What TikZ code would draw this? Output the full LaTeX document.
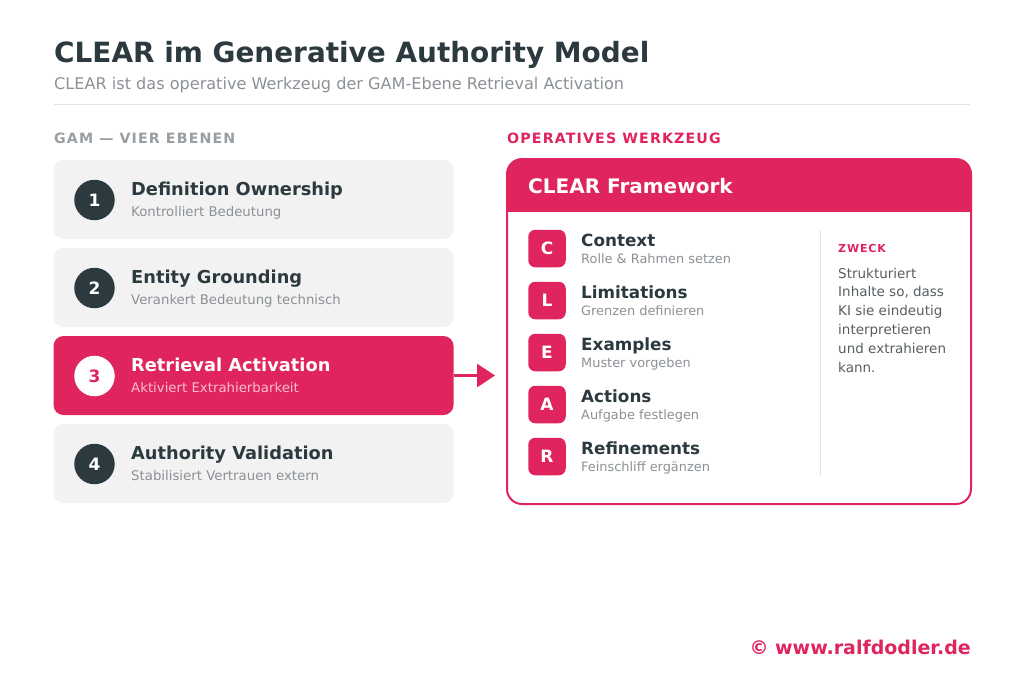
\documentclass[tikz,border=0pt]{standalone}
\usepackage{fontspec}
\setmainfont{DejaVu Sans}
\newfontfamily\spacedfont[LetterSpace=8]{DejaVu Sans}
\usetikzlibrary{arrows.meta}

\definecolor{gampink}{RGB}{224,36,94}
\definecolor{gamdark}{RGB}{44,58,64}
\definecolor{gamgray}{RGB}{140,145,150}
\definecolor{labelgray}{RGB}{152,158,162}
\definecolor{textgray}{RGB}{88,94,98}
\definecolor{cardgray}{RGB}{242,242,242}
\definecolor{linegray}{RGB}{226,226,226}
\definecolor{softpink}{RGB}{248,190,208}

\newcommand{\fs}[1]{\fontsize{#1}{#1}\selectfont}

\tikzset{
    txt/.style={anchor=base west, inner sep=0pt},
    card/.style={fill=cardgray, rounded corners=10pt, minimum width=400pt, minimum height=79pt, inner sep=0pt},
    numdot/.style={circle, fill=gamdark, text=white, minimum size=40.5pt, inner sep=0pt, font=\bfseries\fs{17}},
    ebenetitel/.style={txt, text=gamdark, font=\bfseries\fs{17.8}},
    ebenesub/.style={txt, text=gamgray, font=\fs{13.3}},
    lettersq/.style={fill=gampink, rounded corners=7pt, minimum size=37.5pt, inner sep=0pt, text=white, font=\bfseries\fs{17}},
    itemtitel/.style={txt, text=gamdark, font=\bfseries\fs{16.8}},
    itemsub/.style={txt, text=gamgray, font=\fs{12.9}},
    zwecktext/.style={txt, text=textgray, font=\fs{13.5}},
    pfeil/.style={-{Triangle[length=18pt,width=23pt]}, gampink, line width=3pt}
}

\begin{document}
\begin{tikzpicture}[x=1pt,y=-1pt]
    \useasboundingbox[fill=white] (0,0) rectangle (1024,683);

    % Kopf
    \node[txt, text=gamdark, font=\bfseries\fs{27.9}] (titel) at (54,62) {CLEAR im Generative Authority Model};
    \node[txt, text=gamgray, font=\fs{16.1}] (untertitel) at (54,89) {CLEAR ist das operative Werkzeug der GAM-Ebene Retrieval Activation};
    \draw[linegray, line width=1pt] (54,104.5) -- (970,104.5);

    \node[txt, text=labelgray, font=\spacedfont\bfseries\fs{14.2}] (gamlabel) at (54,143) {GAM — VIER EBENEN};
    \node[txt, text=gampink, font=\spacedfont\bfseries\fs{14.2}] (werkzeuglabel) at (507,143) {OPERATIVES WERKZEUG};

    % vier Ebenen
    \node[card] (ebene1) at (253.5,199.5) {};
    \node[card] (ebene2) at (253.5,287.5) {};
    \node[card, fill=gampink] (ebene3) at (253.5,375.5) {};
    \node[card] (ebene4) at (253.5,463.5) {};

    \node[numdot] (num1) at (94.5,200) {1};
    \node[numdot] (num2) at (94.5,288) {2};
    \node[numdot, fill=white, text=gampink] (num3) at (94.5,376) {3};
    \node[numdot] (num4) at (94.5,464) {4};

    \node[ebenetitel] (titel1) at (131,195) {Definition Ownership};
    \node[ebenesub] (sub1) at (131,216) {Kontrolliert Bedeutung};
    \node[ebenetitel] (titel2) at (131,283) {Entity Grounding};
    \node[ebenesub] (sub2) at (131,304) {Verankert Bedeutung technisch};
    \node[ebenetitel, text=white] (titel3) at (131,371) {Retrieval Activation};
    \node[ebenesub, text=softpink] (sub3) at (131,392) {Aktiviert Extrahierbarkeit};
    \node[ebenetitel] (titel4) at (131,459) {Authority Validation};
    \node[ebenesub] (sub4) at (131,480) {Stabilisiert Vertrauen extern};

    \coordinate (pfeilende) at (495,375.5);
    \draw[pfeil] (ebene3.east) -- (pfeilende);

    % CLEAR Framework
    \begin{scope}
        \clip[rounded corners=15pt] (507,159) rectangle (971,504);
        \fill[gampink] (507,159) rectangle (971,212);
    \end{scope}
    \draw[gampink, line width=2pt, rounded corners=15pt] (507,159) rectangle (971,504);
    \node[txt, text=white, font=\bfseries\fs{20}] (framework) at (528,193) {CLEAR Framework};

    \node[lettersq] (sqC) at (547,248.5) {C};
    \node[lettersq] (sqL) at (547,300.5) {L};
    \node[lettersq] (sqE) at (547,352.5) {E};
    \node[lettersq] (sqA) at (547,404.5) {A};
    \node[lettersq] (sqR) at (547,456.5) {R};

    \node[itemtitel] (context) at (581,246) {Context};
    \node[itemsub] (contextsub) at (581,263) {Rolle \& Rahmen setzen};
    \node[itemtitel] (limitations) at (581,298) {Limitations};
    \node[itemsub] (limitationssub) at (581,315) {Grenzen definieren};
    \node[itemtitel] (examples) at (581,350) {Examples};
    \node[itemsub] (examplessub) at (581,367) {Muster vorgeben};
    \node[itemtitel] (actions) at (581,402) {Actions};
    \node[itemsub] (actionssub) at (581,419) {Aufgabe festlegen};
    \node[itemtitel] (refinements) at (581,454) {Refinements};
    \node[itemsub] (refinementssub) at (581,471) {Feinschliff ergänzen};

    \draw[linegray, line width=1pt] (820.5,230) -- (820.5,476);

    \node[txt, text=gampink, font=\spacedfont\bfseries\fs{11}] (zweck) at (838,252) {ZWECK};
    \node[zwecktext] (zweck1) at (838,278) {Strukturiert};
    \node[zwecktext] (zweck2) at (838,296.8) {Inhalte so, dass};
    \node[zwecktext] (zweck3) at (838,315.6) {KI sie eindeutig};
    \node[zwecktext] (zweck4) at (838,334.4) {interpretieren};
    \node[zwecktext] (zweck5) at (838,353.2) {und extrahieren};
    \node[zwecktext] (zweck6) at (838,372) {kann.};

    % Fuss
    \node[anchor=base east, inner sep=0pt, text=gampink, font=\bfseries\fs{19}] (copyright) at (971,654) {© www.ralfdodler.de};
\end{tikzpicture}
\end{document}
